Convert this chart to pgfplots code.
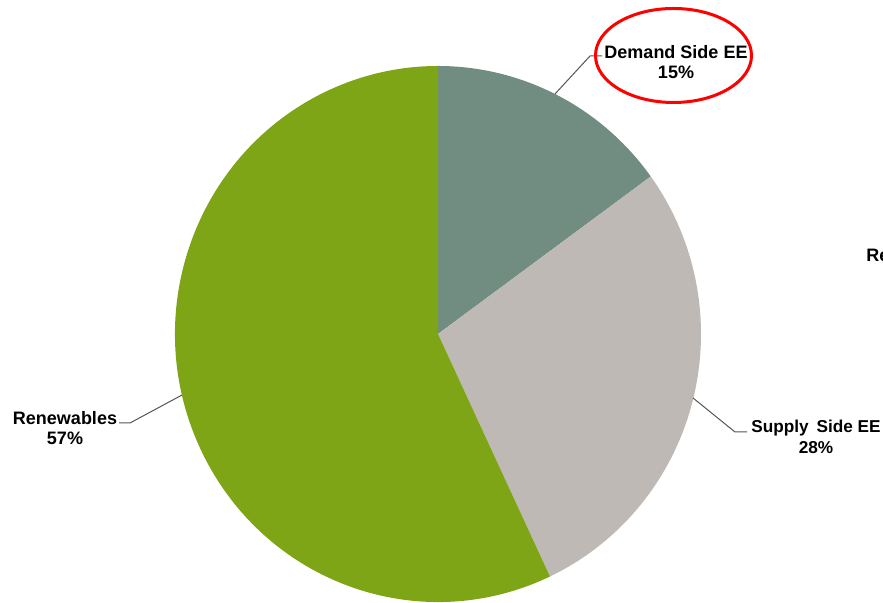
\documentclass[border=0pt]{standalone}
\usepackage{pgfplots}
\pgfplotsset{compat=1.18}
\usepackage{pgfplotstable}
\usepackage{fontspec}
\setmainfont{Liberation Sans}
\definecolor{demand}{HTML}{718C80}
\definecolor{supply}{HTML}{BEB9B5}
\definecolor{renew}{HTML}{7EA516}
\definecolor{leader}{HTML}{555555}
\pgfplotstableread{
label share
Demand 15
Supply 28
Renewables 57
}\piedata
\pgfplotstablegetelem{0}{share}\of\piedata \let\vA\pgfplotsretval
\pgfplotstablegetelem{1}{share}\of\piedata \let\vB\pgfplotsretval
\pgfplotstablegetelem{2}{share}\of\piedata \let\vC\pgfplotsretval
\pgfmathsetmacro\aA{90}
\pgfmathsetmacro\aB{90-3.6*\vA}
\pgfmathsetmacro\aC{\aB-3.6*\vB}
\pgfmathsetmacro\aD{\aC-3.6*\vC}
\begin{document}
\begin{tikzpicture}
\begin{axis}[width=441.5pt,height=301.5pt,scale only axis,hide axis,
  xmin=0,xmax=883,ymin=0,ymax=603,clip=false]
\coordinate (bl) at (axis cs:0,0);
\coordinate (tr) at (axis cs:883,603);
\fill[demand] (axis cs:438,269) -- ++(\aA:131.5pt and 134pt) arc[start angle=\aA,end angle=\aB,x radius=131.5pt,y radius=134pt] -- cycle;
\fill[supply] (axis cs:438,269) -- ++(\aB:131.5pt and 134pt) arc[start angle=\aB,end angle=\aC,x radius=131.5pt,y radius=134pt] -- cycle;
\fill[renew] (axis cs:438,269) -- ++(\aC:131.5pt and 134pt) arc[start angle=\aC,end angle=\aD,x radius=131.5pt,y radius=134pt] -- cycle;
% leader lines
\draw[leader,line width=0.5pt] (axis cs:555,509) -- (axis cs:590,547) -- (axis cs:602,547);
\draw[leader,line width=0.5pt] (axis cs:182,208) -- (axis cs:130,180) -- (axis cs:119,180);
\draw[leader,line width=0.5pt] (axis cs:693,205) -- (axis cs:735,171) -- (axis cs:747,171);
% labels
\node[align=center,font=\fontsize{9}{10}\selectfont\bfseries,inner sep=0pt] at (axis cs:676,541) {Demand Side EE\\15\%};
\node[align=center,font=\fontsize{9}{10}\selectfont\bfseries,inner sep=0pt] at (axis cs:65,175) {Renewables\\57\%};
\node[align=center,font=\fontsize{8.6}{10.4}\selectfont\bfseries,inner sep=0pt] at (axis cs:816,166) {Supply\hspace{1.5pt} Side EE\\28\%};
\node[anchor=west,font=\fontsize{9}{10}\selectfont\bfseries,inner sep=0pt] at (axis cs:866,348) {Re};
% highlight ellipse
\draw[red,line width=1.5pt] (axis cs:673.5,547.5) ellipse[x radius=39pt,y radius=23.5pt];
\end{axis}
\pgfresetboundingbox
\useasboundingbox (bl) rectangle (tr);
\end{tikzpicture}
\end{document}
